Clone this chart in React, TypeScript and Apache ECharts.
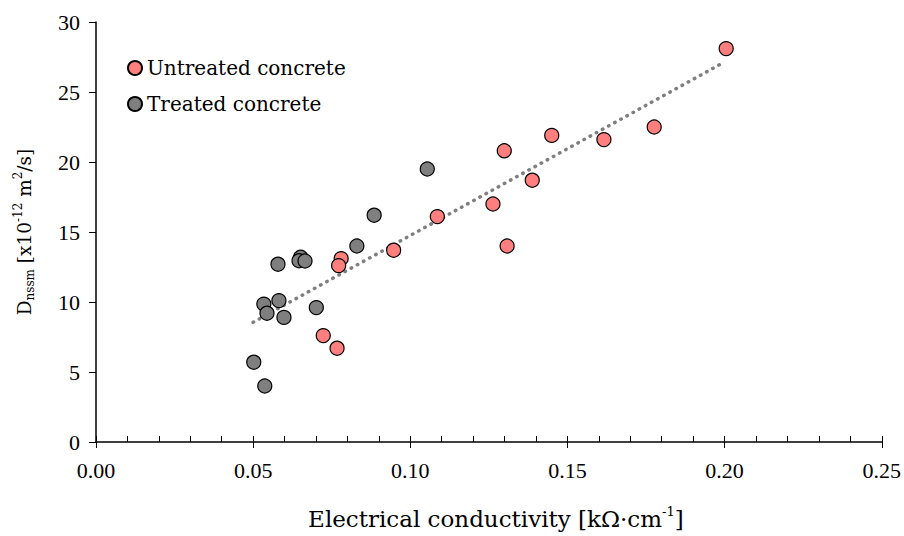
import React, { useEffect, useRef } from "react";
import * as echarts from "echarts";

const untreatedX = [0.2005, 0.1776, 0.1450, 0.1616, 0.1299, 0.1388, 0.1263, 0.1308, 0.1086, 0.0947, 0.0780, 0.0772, 0.0723, 0.0767];
const untreatedY = [28.1, 22.5, 21.9, 21.6, 20.8, 18.7, 17.0, 14.0, 16.1, 13.7, 13.1, 12.6, 7.6, 6.7];

const treatedX = [0.1054, 0.0885, 0.0830, 0.0651, 0.0646, 0.0665, 0.0579, 0.0582, 0.0534, 0.0544, 0.0598, 0.0701, 0.0502, 0.0537];
const treatedY = [19.5, 16.2, 14.0, 13.2, 12.95, 12.93, 12.7, 10.1, 9.85, 9.2, 8.9, 9.6, 5.7, 4.0];

const trendX = [0.05, 0.2];
const trendY = [8.55, 27.15];

const xTicks = [0, 0.05, 0.1, 0.15, 0.2, 0.25];
const yTicks = [0, 5, 10, 15, 20, 25, 30];

const FONT = "'Liberation Serif', 'DejaVu Serif', serif";
const WIDE = "'DejaVu Serif', 'Liberation Serif', serif";

export default function App() {
  const ref = useRef<HTMLDivElement>(null);
  useEffect(() => {
    if (!ref.current) return;
    const chart = echarts.init(ref.current, undefined, { renderer: "svg" });
    const pair = (xs: number[], ys: number[]) => xs.map((x, i) => [x, ys[i]]);
    const axisText = { color: "#000", fontFamily: FONT, fontSize: 22 };
    chart.setOption({
      animation: false,
      backgroundColor: "#fff",
      grid: { left: 96, right: 22, top: 22, bottom: 94, containLabel: false },
      legend: {
        orient: "vertical",
        left: 122,
        top: 53,
        itemGap: 16,
        itemWidth: 14,
        itemHeight: 14,
        icon: "circle",
        data: ["Untreated concrete", "Treated concrete"],
        textStyle: { color: "#000", fontFamily: WIDE, fontSize: 20, padding: [0, 0, 0, 0] },
      },
      xAxis: [
        {
          type: "value",
          min: xTicks[0],
          max: xTicks[xTicks.length - 1],
          interval: 0.05,
          axisLine: { show: true, onZero: false, lineStyle: { color: "#000", width: 1.5 } },
          axisTick: { show: true, inside: true, length: 6, lineStyle: { color: "#000", width: 1 } },
          minorTick: { show: true, splitNumber: 5, length: 6, lineStyle: { color: "#000", width: 1 } },
          splitLine: { show: false },
          axisLabel: { ...axisText, margin: 17, formatter: (v: number) => v.toFixed(2) },
          name: "{a|Electrical conductivity [kΩ·cm}{s|-1}{a|]}",
          nameLocation: "middle",
          nameGap: 63,
          nameTextStyle: {
            padding: [0, 0, 0, 14],
            rich: {
              a: { fontFamily: WIDE, fontSize: 23, color: "#000", lineHeight: 28 },
              s: { fontFamily: WIDE, fontSize: 13, color: "#000", verticalAlign: "top", lineHeight: 28, padding: [0, 0, 12, 0] },
            },
          },
        },
        {
          type: "value",
          min: xTicks[0],
          max: xTicks[xTicks.length - 1],
          interval: 0.05,
          position: "bottom",
          axisLine: { show: false, onZero: false },
          axisTick: { show: true, inside: false, length: 6, lineStyle: { color: "#000", width: 1 } },
          axisLabel: { show: false },
          splitLine: { show: false },
        },
      ],
      yAxis: {
        type: "value",
        min: yTicks[0],
        max: yTicks[yTicks.length - 1],
        interval: 5,
        axisLine: { show: true, onZero: false, lineStyle: { color: "#000", width: 1.5 } },
        axisTick: { show: true, inside: false, length: 7, lineStyle: { color: "#000", width: 1 } },
        splitLine: { show: false },
        axisLabel: { ...axisText, margin: 16 },
        name: "{a|D}{b|nssm}{a| [x10}{s|-12}{a| m}{s|2}{a|/s]}",
        nameLocation: "middle",
        nameGap: 60,
        nameRotate: 90,
        nameTextStyle: {
          padding: [0, 0, 0, 0],
          rich: {
            a: { fontFamily: WIDE, fontSize: 18.5, color: "#000", lineHeight: 24 },
            b: { fontFamily: WIDE, fontSize: 12, color: "#000", verticalAlign: "bottom", lineHeight: 24, padding: [8, 0, 0, 0] },
            s: { fontFamily: WIDE, fontSize: 12, color: "#000", verticalAlign: "top", lineHeight: 24, padding: [0, 0, 9, 0] },
          },
        },
      },
      series: [
        {
          name: "Trend",
          type: "line",
          data: pair(trendX, trendY),
          symbol: "none",
          silent: true,
          lineStyle: { color: "#7f7f7f", width: 3.5, type: [0.5, 6.5], cap: "round" },
          z: 1,
        },
        {
          name: "Treated concrete",
          type: "scatter",
          data: pair(treatedX, treatedY),
          symbol: "circle",
          symbolSize: 14,
          itemStyle: { color: "#7f7f7f", borderColor: "#000", borderWidth: 1.2, opacity: 1 },
          z: 3,
        },
        {
          name: "Untreated concrete",
          type: "scatter",
          data: pair(untreatedX, untreatedY),
          symbol: "circle",
          symbolSize: 14,
          itemStyle: { color: "#ff7f7f", borderColor: "#000", borderWidth: 1.2, opacity: 1 },
          z: 4,
        },
      ],
    });
    return () => chart.dispose();
  }, []);
  return <div ref={ref} style={{ width: 904, height: 536, position: "absolute", left: 0, top: 0 }} />;
}
